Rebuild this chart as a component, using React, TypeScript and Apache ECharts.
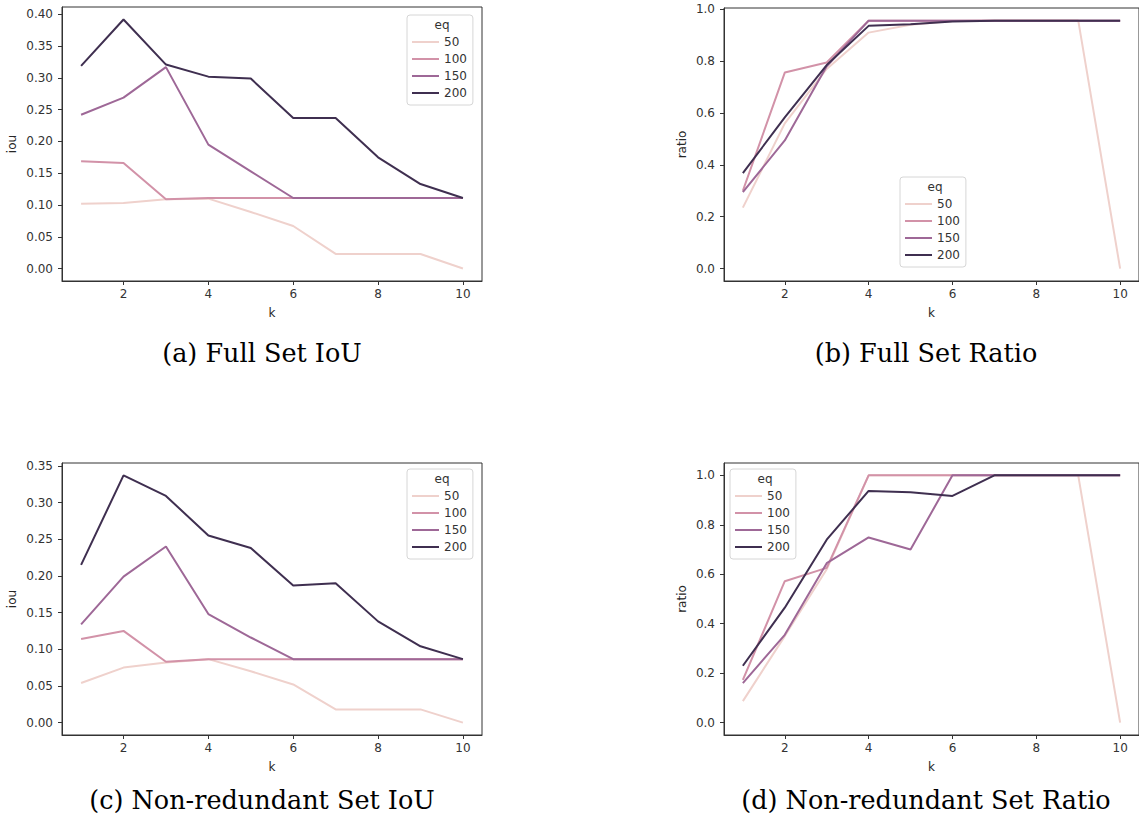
import React, { useEffect, useRef } from "react";
import * as echarts from "echarts";

const kValues = [1, 2, 3, 4, 5, 6, 7, 8, 9, 10];
const eqLevels = ["50", "100", "150", "200"];
const eqColors = ["#efd1cc", "#d292a8", "#9e6897", "#3f2f50"];

const fullIou50 = [0.102, 0.103, 0.109, 0.110, 0.089, 0.067, 0.023, 0.023, 0.023, 0.0];
const fullIou100 = [0.169, 0.166, 0.109, 0.111, 0.111, 0.111, 0.111, 0.111, 0.111, 0.111];
const fullIou150 = [0.242, 0.269, 0.317, 0.195, 0.153, 0.111, 0.111, 0.111, 0.111, 0.111];
const fullIou200 = [0.319, 0.392, 0.321, 0.302, 0.299, 0.237, 0.237, 0.175, 0.133, 0.111];

const fullRatio50 = [0.235, 0.56, 0.77, 0.91, 0.94, 0.955, 0.957, 0.957, 0.957, 0.0];
const fullRatio100 = [0.30, 0.756, 0.795, 0.956, 0.956, 0.956, 0.956, 0.956, 0.956, 0.956];
const fullRatio150 = [0.295, 0.494, 0.78, 0.956, 0.956, 0.956, 0.956, 0.956, 0.956, 0.956];
const fullRatio200 = [0.368, 0.583, 0.785, 0.936, 0.942, 0.953, 0.956, 0.956, 0.956, 0.956];

const nrIou50 = [0.054, 0.075, 0.082, 0.0865, 0.070, 0.052, 0.018, 0.018, 0.018, 0.0];
const nrIou100 = [0.114, 0.125, 0.083, 0.0865, 0.0865, 0.0865, 0.0865, 0.0865, 0.0865, 0.0865];
const nrIou150 = [0.134, 0.199, 0.240, 0.148, 0.116, 0.0865, 0.0865, 0.0865, 0.0865, 0.0865];
const nrIou200 = [0.215, 0.337, 0.309, 0.255, 0.238, 0.187, 0.190, 0.138, 0.104, 0.0865];

const nrRatio50 = [0.087, 0.35, 0.62, 1, 1, 1, 1, 1, 1, 0];
const nrRatio100 = [0.173, 0.572, 0.626, 1, 1, 1, 1, 1, 1, 1];
const nrRatio150 = [0.16, 0.355, 0.645, 0.749, 0.70, 1, 1, 1, 1, 1];
const nrRatio200 = [0.23, 0.465, 0.74, 0.937, 0.932, 0.917, 1, 1, 1, 1];

const xTicks = [2, 4, 6, 8, 10];
const iouTicksA = [0, 0.05, 0.1, 0.15, 0.2, 0.25, 0.3, 0.35, 0.4];
const iouTicksC = [0, 0.05, 0.1, 0.15, 0.2, 0.25, 0.3, 0.35];
const ratioTicks = [0, 0.2, 0.4, 0.6, 0.8, 1.0];

const captions = [
  "(a) Full Set IoU",
  "(b) Full Set Ratio",
  "(c) Non-redundant Set IoU",
  "(d) Non-redundant Set Ratio",
];

const panels = [
  { data: [fullIou50, fullIou100, fullIou150, fullIou200], yName: "iou", ticks: iouTicksA, digits: 2, ymin: -0.0196, ymax: 0.4116 },
  { data: [fullRatio50, fullRatio100, fullRatio150, fullRatio200], yName: "ratio", ticks: ratioTicks, digits: 1, ymin: -0.0479, ymax: 1.0049 },
  { data: [nrIou50, nrIou100, nrIou150, nrIou200], yName: "iou", ticks: iouTicksC, digits: 2, ymin: -0.0169, ymax: 0.3539 },
  { data: [nrRatio50, nrRatio100, nrRatio150, nrRatio200], yName: "ratio", ticks: ratioTicks, digits: 1, ymin: -0.05, ymax: 1.05 },
];

const gridBoxes = [
  { left: 62, top: 7, width: 420, height: 274, nameGap: 44 },
  { left: 724, top: 8, width: 419, height: 273, nameGap: 36 },
  { left: 62, top: 463, width: 420, height: 272, nameGap: 44 },
  { left: 724, top: 463, width: 419, height: 272, nameGap: 36 },
];
const legendBoxes = [
  { left: 407, top: 15 },
  { left: 900, top: 177 },
  { left: 407, top: 469 },
  { left: 730, top: 469 },
];
const captionPos = [
  { x: 262, y: 353 },
  { x: 926, y: 353 },
  { x: 262, y: 800 },
  { x: 926, y: 800 },
];

const axisColor = "#333";
const font = "DejaVu Sans";

export default function App() {
  const ref = useRef<HTMLDivElement>(null);
  useEffect(() => {
    if (!ref.current) return;
    const chart = echarts.init(ref.current, undefined, { renderer: "svg" });
    const grid = gridBoxes.map((g) => ({
      left: g.left, top: g.top, width: g.width, height: g.height,
      show: true, borderColor: axisColor, borderWidth: 1, backgroundColor: "transparent",
      containLabel: false,
    }));
    const xAxis = gridBoxes.map((g, i) => ({
      type: "value", gridIndex: i, min: 0.55, max: 10.45, position: "bottom",
      name: "k", nameLocation: "middle", nameGap: 26,
      nameTextStyle: { color: "#262626", fontSize: 12, fontFamily: font },
      axisLine: { show: true, onZero: false, lineStyle: { color: axisColor, width: 1 } },
      splitLine: { show: false },
      axisTick: { show: true, inside: false, customValues: xTicks, length: 4, lineStyle: { color: axisColor } },
      axisLabel: { customValues: xTicks, color: axisColor, fontSize: 12, fontFamily: font, margin: 7 },
    }));
    const yAxis = panels.map((p, i) => ({
      type: "value", gridIndex: i, min: p.ymin, max: p.ymax, position: "left",
      name: p.yName, nameLocation: "middle", nameGap: gridBoxes[i].nameGap, nameRotate: 90,
      nameTextStyle: { color: "#262626", fontSize: 12, fontFamily: font },
      axisLine: { show: true, onZero: false, lineStyle: { color: axisColor, width: 1 } },
      splitLine: { show: false },
      axisTick: { show: true, inside: false, customValues: p.ticks, length: 4, lineStyle: { color: axisColor } },
      axisLabel: {
        customValues: p.ticks, color: axisColor, fontSize: 12, fontFamily: font, margin: 9,
        formatter: (v: number) => v.toFixed(p.digits),
      },
    }));
    const series: any[] = [];
    panels.forEach((p, i) => {
      p.data.forEach((vals, j) => {
        series.push({
          type: "line", name: eqLevels[j], xAxisIndex: i, yAxisIndex: i,
          data: kValues.map((k, idx) => [k, vals[idx]]),
          symbol: "none", showSymbol: false,
          lineStyle: { color: eqColors[j], width: 2 },
          itemStyle: { color: eqColors[j] },
          z: 2 + j,
        });
      });
    });
    const legend = legendBoxes.map((l) => ({
      left: l.left, top: l.top, orient: "vertical",
      data: eqLevels,
      itemWidth: 27, itemHeight: 14, itemGap: 5,
      padding: [21, 6, 6, 4],
      borderColor: "#d6d6d6", borderWidth: 1, borderRadius: 3,
      backgroundColor: "rgba(255,255,255,0.8)",
      itemStyle: { color: "transparent", borderColor: "transparent", borderWidth: 0 },
      lineStyle: { width: 2 },
      textStyle: { color: axisColor, fontSize: 12, fontFamily: font },
      selectedMode: false,
    }));
    const graphic: any[] = [];
    legendBoxes.forEach((l) => {
      graphic.push({
        type: "text", x: l.left + 35, y: l.top + 10, z: 100,
        style: { text: "eq", fill: axisColor, font: `12px ${font}`, textAlign: "center", textVerticalAlign: "middle" },
      });
    });
    captions.forEach((c, i) => {
      graphic.push({
        type: "text", x: captionPos[i].x, y: captionPos[i].y,
        style: { text: c, fill: "#000", font: `25.5px "DejaVu Serif"`, textAlign: "center", textVerticalAlign: "middle" },
      });
    });
    chart.setOption({
      animation: false,
      backgroundColor: "#fff",
      grid, xAxis, yAxis, series, legend, graphic,
    });
    return () => chart.dispose();
  }, []);
  return <div ref={ref} style={{ position: "fixed", left: 0, top: 0, width: 1139, height: 829 }} />;
}
